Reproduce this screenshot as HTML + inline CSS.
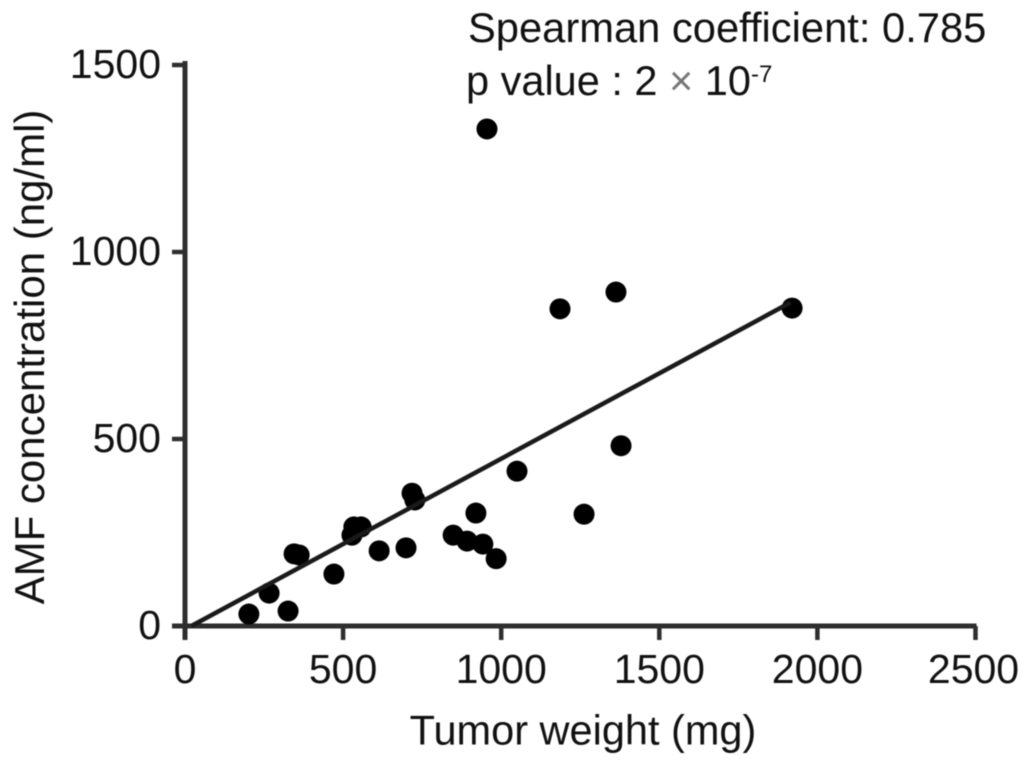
<!DOCTYPE html>
<html lang="en">
<head>
<meta charset="utf-8">
<title>AMF concentration vs tumor weight</title>
<style>
html,body{margin:0;padding:0;background:#fff;width:1031px;height:765px;overflow:hidden}
svg{display:block;filter:blur(0.6px)}
text{font-family:"Liberation Sans",sans-serif;fill:#111}
</style>
</head>
<body>
<svg id="chart" width="1031" height="765" viewBox="0 0 1031 765" xmlns="http://www.w3.org/2000/svg">
  <rect width="1031" height="765" fill="#fff"/>
  <g id="axes"></g>
  <g id="points"></g>
  <g id="trend"></g>
  <text x="583" y="744.5" font-size="41.5" text-anchor="middle">Tumor weight (mg)</text>
  <text transform="translate(44,357) rotate(-90)" font-size="42" text-anchor="middle">AMF concentration (ng/ml)</text>
  <text x="468" y="42" font-size="41.7">Spearman coefficient: 0.785</text>
  <text x="466" y="95" font-size="41.5">p value : 2 <tspan fill="#777">×</tspan> 10<tspan font-size="24" dy="-13">-7</tspan></text>
</svg>
<script>
const tumorWeight = [202,266,326,345,361,471,528,534,557,614,699,718,727,848,892,942,984,920,1050,1262,955,1186,1363,1379,1920];
const amfConcentration = [32,88,40,193,190,139,243,265,265,201,209,355,337,243,227,219,180,302,414,299,1329,848,893,482,850];
const trendWeight = [20,1915];
const trendConcentration = [0,865];
const xTicks = [0,500,1000,1500,2000,2500];
const yTicks = [0,500,1000,1500];

const SVG_NS = 'http://www.w3.org/2000/svg';
const AXIS_COLOR = '#2e2e2e';
const xScale = function (v) { return 185 + v * 0.3162; };
const yScale = function (v) { return 626 - v * 0.374; };

const axes = document.getElementById('axes');
const pointsGroup = document.getElementById('points');
const trendGroup = document.getElementById('trend');

function makeLine(x1, y1, x2, y2, width, color) {
  const l = document.createElementNS(SVG_NS, 'line');
  l.setAttribute('x1', x1);
  l.setAttribute('y1', y1);
  l.setAttribute('x2', x2);
  l.setAttribute('y2', y2);
  l.setAttribute('stroke', color);
  l.setAttribute('stroke-width', width);
  return l;
}

function makeText(x, y, anchor, content) {
  const t = document.createElementNS(SVG_NS, 'text');
  t.setAttribute('x', x);
  t.setAttribute('y', y);
  t.setAttribute('text-anchor', anchor);
  t.setAttribute('font-size', '41');
  t.textContent = content;
  return t;
}

const xAxisLine = makeLine(xScale(0) - 13, yScale(0), xScale(xTicks[xTicks.length - 1]) + 1, yScale(0), 5, AXIS_COLOR);


axes.appendChild(xAxisLine);

const yAxisLine = makeLine(xScale(0), yScale(yTicks[yTicks.length - 1]) - 4, xScale(0), yScale(0) + 14, 5, AXIS_COLOR);


axes.appendChild(yAxisLine);

xTicks.forEach(function (v) {
  const tick = makeLine(xScale(v), yScale(0), xScale(v), yScale(0) + 14, 4.5, AXIS_COLOR);
  
  
  axes.appendChild(tick);
  const label = makeText(xScale(v) - (v === 2500 ? 2 : 0), 683, 'middle', String(v));
  
  
  axes.appendChild(label);
});

yTicks.forEach(function (v) {
  const tick = makeLine(xScale(0) - 13, yScale(v), xScale(0), yScale(v), 4.5, AXIS_COLOR);
  
  
  axes.appendChild(tick);
  const label = makeText(161, yScale(v) + 13, 'end', String(v));
  
  
  axes.appendChild(label);
});

tumorWeight.forEach(function (w, i) {
  const c = document.createElementNS(SVG_NS, 'circle');
  c.setAttribute('cx', xScale(w));
  c.setAttribute('cy', yScale(amfConcentration[i]));
  c.setAttribute('r', '10.5');
  c.setAttribute('fill', '#000');
  
  
  pointsGroup.appendChild(c);
});

const trendLine = makeLine(xScale(trendWeight[0]), yScale(trendConcentration[0]), xScale(trendWeight[1]), yScale(trendConcentration[1]), 4.5, '#1a1a1a');


trendGroup.appendChild(trendLine);
</script>
</body>
</html>
